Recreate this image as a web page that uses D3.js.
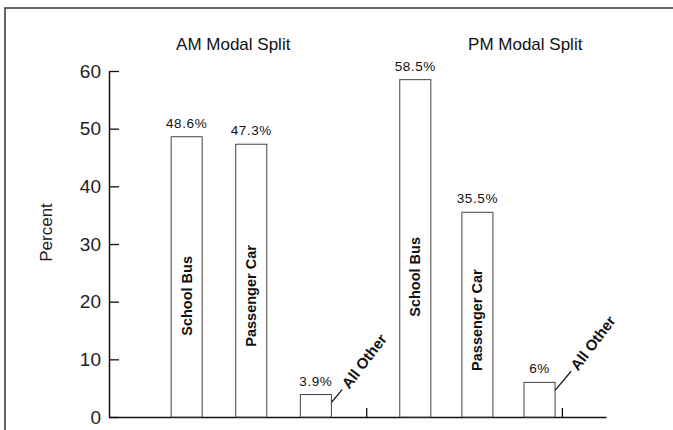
<!DOCTYPE html>
<html>
<head>
<meta charset="utf-8">
<script src="https://cdn.jsdelivr.net/npm/d3@7"></script>
<style>
  body { margin: 0; background: #fff; }
  svg { display: block; font-family: "Liberation Sans", Arial, Helvetica, sans-serif; }
</style>
</head>
<body>
<div id="chart"></div>
<script>
// Data
const periods = ["AM Modal Split", "PM Modal Split"];
const modes = ["School Bus", "Passenger Car", "All Other"];
const amValues = [48.6, 47.3, 3.9];
const pmValues = [58.5, 35.5, 6];
const yTicks = [0, 10, 20, 30, 40, 50, 60];

// Layout (slot units along the x axis)
const groupStart = [1.0, 4.68];
const slotStep = [1.04, 1.0];
const barWidth = 0.5;
const separators = [4.14, 7.29];
const titleAt = [2.0, 6.7];
const labelMid = [[21, 21], [24.3, 16.8]]; // value where rotated bar label is centred

const width = 673, height = 430;

const svg = d3.select("#chart")
  .append("svg")
  .attr("width", width)
  .attr("height", height);

// frame (left + top only)
svg.append("path")
  .attr("d", "M5,430V8H673")
  .attr("fill", "none")
  .attr("stroke", "#333")
  .attr("stroke-width", 1.5);

const x = d3.scaleLinear().domain([0, 8]).range([109, 606]);
const y = d3.scaleLinear().domain([0, 60]).range([417, 71]);

const bars = [];
[amValues, pmValues].forEach((vals, g) => {
  vals.forEach((v, i) => {
    bars.push({
      group: g,
      idx: i,
      mode: modes[i],
      value: v,
      x0: groupStart[g] + i * slotStep[g]
    });
  });
});

// y axis
svg.append("g")
  .attr("transform", `translate(${x(0)},0)`)
  .call(d3.axisLeft(y).tickValues(yTicks).tickSizeInner(-10).tickSizeOuter(0).tickPadding(8))
  .call(g => g.select(".domain").attr("stroke", "#111").attr("stroke-width", 1.5))
  .call(g => g.selectAll(".tick line").attr("stroke", "#111").attr("stroke-width", 1.3))
  .call(g => g.selectAll(".tick text")
    .attr("font-size", 19)
    .attr("fill", "#222")
    .attr("font-family", "Liberation Sans, Arial, sans-serif"));

// x axis with group separator ticks
svg.append("g")
  .attr("transform", `translate(0,${y(0)})`)
  .call(d3.axisBottom(x).tickValues(separators).tickSizeInner(-9).tickSizeOuter(0).tickFormat(""))
  .call(g => g.select(".domain").attr("stroke", "#111").attr("stroke-width", 1.5))
  .call(g => g.selectAll(".tick line").attr("stroke", "#111").attr("stroke-width", 1.3));

// y axis label
svg.append("text")
  .attr("transform", `translate(52,${y(32)}) rotate(-90)`)
  .attr("text-anchor", "middle")
  .attr("font-size", 17)
  .attr("fill", "#222")
  .text("Percent");

// group titles
svg.selectAll(".title")
  .data(periods)
  .join("text")
  .attr("class", "title")
  .attr("x", (d, i) => x(titleAt[i]))
  .attr("y", 50)
  .attr("text-anchor", "middle")
  .attr("font-size", 17)
  .attr("fill", "#111")
  .text(d => d);

// bars
svg.selectAll(".bar")
  .data(bars)
  .join("rect")
  .attr("class", "bar")
  .attr("x", d => x(d.x0))
  .attr("y", d => y(d.value))
  .attr("width", x(barWidth) - x(0))
  .attr("height", d => y(0) - y(d.value))
  .attr("fill", "#fff")
  .attr("stroke", "#444")
  .attr("stroke-width", 1);

// value labels
svg.selectAll(".val")
  .data(bars)
  .join("text")
  .attr("class", "val")
  .attr("x", d => x(d.x0 + barWidth / 2))
  .attr("y", d => y(d.value) - 9)
  .attr("text-anchor", "middle")
  .attr("font-size", 13.5)
  .attr("letter-spacing", 0.6)
  .attr("fill", "#111")
  .text(d => d.value + "%");

// rotated labels inside tall bars
svg.selectAll(".inlabel")
  .data(bars.filter(d => d.idx < 2))
  .join("text")
  .attr("class", "inlabel")
  .attr("transform", d => `translate(${x(d.x0 + barWidth / 2)},${y(labelMid[d.group][d.idx])}) rotate(-90)`)
  .attr("text-anchor", "middle")
  .attr("dominant-baseline", "central")
  .attr("font-size", 14.5)
  .attr("font-weight", "bold")
  .attr("fill", "#111")
  .text(d => d.mode);

// "All Other" leader lines and labels
const small = bars.filter(d => d.idx === 2);
const ang = 50 * Math.PI / 180;
const lead = [17, 25];

svg.selectAll(".leader")
  .data(small)
  .join("line")
  .attr("class", "leader")
  .attr("x1", d => x(d.x0 + barWidth))
  .attr("y1", d => y(d.value) + 8)
  .attr("x2", d => x(d.x0 + barWidth) + lead[d.group] * Math.cos(ang))
  .attr("y2", d => y(d.value) + 8 - lead[d.group] * Math.sin(ang))
  .attr("stroke", "#111")
  .attr("stroke-width", 1.2);

svg.selectAll(".otherlabel")
  .data(small)
  .join("text")
  .attr("class", "otherlabel")
  .attr("transform", d => {
    const tx = x(d.x0 + barWidth) + (lead[d.group] + 4) * Math.cos(ang);
    const ty = y(d.value) + 8 - (lead[d.group] + 4) * Math.sin(ang);
    return `translate(${tx},${ty}) rotate(-53)`;
  })
  .attr("text-anchor", "start")
  .attr("dominant-baseline", "central")
  .attr("font-size", 15)
  .attr("font-weight", "bold")
  .attr("fill", "#111")
  .text(d => d.mode);
</script>
</body>
</html>
